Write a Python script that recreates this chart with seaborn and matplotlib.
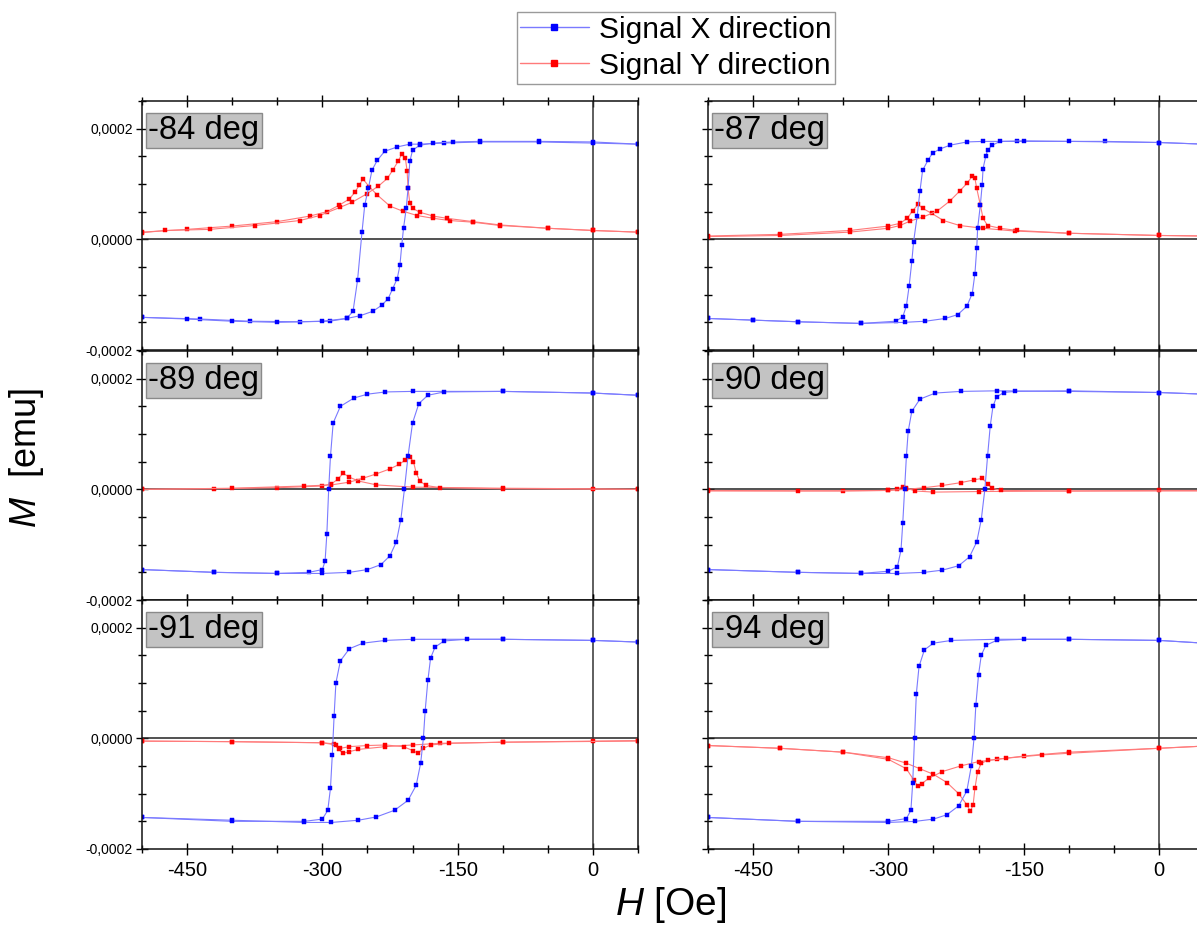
import numpy as np
import pandas as pd
import seaborn as sns
import matplotlib.pyplot as plt
from matplotlib.lines import Line2D
from matplotlib.ticker import MultipleLocator, FuncFormatter

# Hysteresis loops, H in Oe, M in units of 1e-4 emu
# x = signal X direction (blue), y = signal Y direction (red)
# "down" / "a" = field sweep from + to -, "up" / "b" = sweep from - to +

x84_down = [(50, 1.72), (0, 1.74), (-60, 1.76), (-125, 1.76), (-165, 1.74), (-192, 1.72), (-203, 1.72),
            (-217, 1.67), (-231, 1.59), (-239, 1.43), (-245, 1.25), (-249, 0.92), (-253, 0.62), (-256, 0.14),
            (-261, -0.74), (-266, -1.30), (-273, -1.43), (-292, -1.48), (-325, -1.49), (-380, -1.48),
            (-436, -1.44), (-500, -1.41)]
x84_up = [(-500, -1.41), (-450, -1.44), (-400, -1.48), (-350, -1.50), (-300, -1.48), (-273, -1.43),
          (-258, -1.38), (-244, -1.30), (-234, -1.19), (-227, -1.07), (-222, -0.89), (-217, -0.71),
          (-214, -0.47), (-212, -0.11), (-210, 0.20), (-207, 0.56), (-205, 0.92), (-203, 1.41), (-200, 1.61),
          (-192, 1.70), (-177, 1.74), (-155, 1.76), (-125, 1.77), (-60, 1.77), (0, 1.76), (50, 1.72)]
y84_a = [(50, 0.13), (0, 0.16), (-50, 0.20), (-103, 0.25), (-133, 0.31), (-159, 0.34), (-177, 0.38),
         (-195, 0.43), (-211, 0.51), (-225, 0.60), (-239, 0.80), (-248, 0.95), (-255, 1.09), (-259, 0.98),
         (-264, 0.85), (-270, 0.73), (-281, 0.62), (-295, 0.50), (-314, 0.42), (-350, 0.32), (-400, 0.24),
         (-450, 0.18), (-500, 0.13)]
y84_b = [(-500, 0.12), (-474, 0.16), (-425, 0.18), (-375, 0.25), (-325, 0.34), (-303, 0.43), (-280, 0.58),
         (-267, 0.67), (-251, 0.82), (-238, 0.96), (-228, 1.10), (-222, 1.25), (-216, 1.41), (-212, 1.54),
         (-208, 1.47), (-206, 1.23), (-205, 0.92), (-203, 0.65), (-200, 0.56), (-192, 0.49), (-177, 0.42),
         (-162, 0.38), (-133, 0.32), (-103, 0.26), (-50, 0.20), (0, 0.16), (50, 0.13)]

x87_down = [(50, 1.72), (0, 1.75), (-60, 1.77), (-157, 1.77), (-195, 1.77), (-213, 1.76), (-232, 1.70),
            (-243, 1.63), (-251, 1.56), (-256, 1.43), (-262, 1.25), (-265, 0.87), (-268, 0.43), (-272, -0.04),
            (-274, -0.40), (-277, -0.85), (-280, -1.20), (-284, -1.40), (-292, -1.48), (-330, -1.52),
            (-400, -1.49), (-450, -1.46), (-500, -1.43)]
x87_up = [(-500, -1.43), (-450, -1.46), (-400, -1.49), (-330, -1.52), (-282, -1.50), (-259, -1.48),
          (-237, -1.43), (-223, -1.36), (-213, -1.21), (-207, -0.98), (-204, -0.62), (-202, -0.16),
          (-201, 0.20), (-198, 0.62), (-196, 0.98), (-195, 1.28), (-192, 1.50), (-190, 1.61), (-185, 1.70),
          (-176, 1.77), (-150, 1.78), (-100, 1.77), (0, 1.75), (50, 1.72)]
y87_a = [(50, 0.06), (0, 0.07), (-100, 0.11), (-160, 0.15), (-195, 0.20), (-221, 0.25), (-239, 0.34),
         (-252, 0.47), (-262, 0.56), (-267, 0.63), (-273, 0.52), (-279, 0.38), (-287, 0.29), (-300, 0.24),
         (-343, 0.16), (-420, 0.09), (-500, 0.06)]
y87_b = [(-500, 0.05), (-420, 0.07), (-343, 0.13), (-300, 0.20), (-287, 0.25), (-276, 0.33), (-262, 0.40),
         (-246, 0.51), (-232, 0.69), (-221, 0.87), (-213, 1.01), (-207, 1.14), (-204, 1.10), (-202, 0.92),
         (-198, 0.62), (-195, 0.38), (-190, 0.25), (-176, 0.20), (-157, 0.16), (-100, 0.11), (0, 0.07),
         (50, 0.06)]

x89_down = [(50, 1.70), (0, 1.74), (-100, 1.77), (-200, 1.77), (-230, 1.76), (-250, 1.72), (-265, 1.65),
            (-280, 1.50), (-288, 1.20), (-291, 0.60), (-293, 0.0), (-295, -0.80), (-297, -1.30),
            (-300, -1.45), (-315, -1.50), (-350, -1.52), (-420, -1.50), (-500, -1.45)]
x89_up = [(-500, -1.45), (-420, -1.50), (-350, -1.52), (-300, -1.52), (-270, -1.50), (-250, -1.45),
          (-235, -1.36), (-225, -1.20), (-218, -0.95), (-213, -0.55), (-209, 0.0), (-205, 0.60),
          (-200, 1.20), (-193, 1.55), (-183, 1.70), (-165, 1.76), (-100, 1.77), (0, 1.74), (50, 1.70)]
y89_a = [(50, 0.0), (0, 0.01), (-100, 0.02), (-200, 0.04), (-240, 0.08), (-260, 0.15), (-270, 0.22),
         (-277, 0.29), (-283, 0.18), (-290, 0.10), (-300, 0.06), (-350, 0.03), (-420, 0.01), (-500, 0.0)]
y89_b = [(-500, 0.0), (-400, 0.02), (-320, 0.06), (-290, 0.08), (-270, 0.13), (-255, 0.20), (-240, 0.28),
         (-225, 0.37), (-215, 0.45), (-208, 0.53), (-203, 0.58), (-199, 0.50), (-196, 0.30), (-192, 0.15),
         (-185, 0.07), (-170, 0.03), (-100, 0.01), (50, 0.0)]

x90_down = [(50, 1.72), (0, 1.75), (-100, 1.77), (-180, 1.78), (-220, 1.77), (-248, 1.74), (-265, 1.63),
            (-274, 1.41), (-278, 1.05), (-280, 0.60), (-282, 0.0), (-284, -0.60), (-286, -1.10),
            (-290, -1.40), (-300, -1.48), (-330, -1.52), (-400, -1.50), (-500, -1.45)]
x90_up = [(-500, -1.45), (-400, -1.50), (-330, -1.52), (-290, -1.52), (-260, -1.50), (-240, -1.46),
          (-222, -1.38), (-210, -1.22), (-202, -0.95), (-197, -0.55), (-193, 0.0), (-190, 0.60),
          (-187, 1.15), (-184, 1.50), (-180, 1.67), (-172, 1.75), (-160, 1.77), (-100, 1.78), (0, 1.75),
          (50, 1.72)]
y90_a = [(50, -0.02), (0, -0.02), (-100, -0.03), (-200, -0.04), (-250, -0.05), (-270, -0.03), (-280, 0.02),
         (-284, 0.05), (-290, 0.0), (-300, -0.02), (-350, -0.03), (-500, -0.02)]
y90_b = [(-500, -0.03), (-400, -0.03), (-300, -0.02), (-280, 0.0), (-260, 0.03), (-240, 0.07),
         (-220, 0.12), (-205, 0.17), (-196, 0.20), (-190, 0.10), (-185, 0.02), (-175, -0.02),
         (-100, -0.03), (50, -0.03)]

x91_down = [(50, 1.74), (0, 1.77), (-100, 1.79), (-200, 1.79), (-230, 1.77), (-255, 1.72), (-270, 1.62),
            (-280, 1.40), (-285, 1.00), (-287, 0.40), (-289, -0.30), (-291, -0.90), (-294, -1.30),
            (-300, -1.46), (-320, -1.50), (-400, -1.50), (-500, -1.43)]
x91_up = [(-500, -1.43), (-400, -1.48), (-320, -1.52), (-290, -1.52), (-260, -1.48), (-240, -1.42),
          (-220, -1.30), (-205, -1.12), (-196, -0.85), (-191, -0.45), (-188, 0.0), (-186, 0.50),
          (-183, 1.05), (-180, 1.45), (-175, 1.65), (-165, 1.76), (-140, 1.79), (-100, 1.79), (0, 1.77),
          (50, 1.74)]
y91_a = [(50, -0.04), (0, -0.05), (-100, -0.07), (-170, -0.09), (-200, -0.12), (-230, -0.15), (-260, -0.20),
         (-270, -0.24), (-277, -0.27), (-282, -0.20), (-287, -0.10), (-300, -0.08), (-400, -0.06),
         (-500, -0.05)]
y91_b = [(-500, -0.05), (-400, -0.06), (-300, -0.08), (-285, -0.12), (-280, -0.18), (-270, -0.15),
         (-250, -0.13), (-230, -0.12), (-210, -0.15), (-200, -0.22), (-194, -0.27), (-188, -0.18),
         (-180, -0.12), (-160, -0.09), (-100, -0.07), (50, -0.05)]

x94_down = [(50, 1.72), (0, 1.77), (-100, 1.79), (-180, 1.79), (-230, 1.77), (-250, 1.72), (-260, 1.60),
            (-266, 1.30), (-269, 0.80), (-271, 0.0), (-273, -0.80), (-275, -1.30), (-280, -1.45),
            (-300, -1.50), (-400, -1.50), (-500, -1.43)]
x94_up = [(-500, -1.43), (-400, -1.50), (-300, -1.52), (-270, -1.50), (-250, -1.46), (-235, -1.38),
          (-222, -1.22), (-213, -0.95), (-208, -0.50), (-205, 0.0), (-203, 0.60), (-200, 1.15),
          (-197, 1.50), (-192, 1.68), (-180, 1.77), (-150, 1.79), (-100, 1.79), (0, 1.77), (50, 1.72)]
y94_a = [(50, -0.14), (0, -0.18), (-100, -0.25), (-150, -0.32), (-180, -0.38), (-200, -0.42), (-220, -0.50),
         (-240, -0.60), (-255, -0.72), (-263, -0.82), (-267, -0.87), (-272, -0.75), (-280, -0.55),
         (-300, -0.38), (-350, -0.25), (-420, -0.18), (-500, -0.13)]
y94_b = [(-500, -0.13), (-420, -0.18), (-350, -0.25), (-300, -0.35), (-280, -0.45), (-265, -0.55),
         (-250, -0.65), (-235, -0.80), (-222, -1.00), (-213, -1.20), (-209, -1.32), (-206, -1.20),
         (-204, -0.90), (-201, -0.60), (-197, -0.45), (-190, -0.40), (-170, -0.36), (-130, -0.30),
         (-100, -0.27), (0, -0.18), (50, -0.14)]

angles = ["-84 deg", "-87 deg", "-89 deg", "-90 deg", "-91 deg", "-94 deg"]
x_curves = [(x84_down, x84_up), (x87_down, x87_up), (x89_down, x89_up),
            (x90_down, x90_up), (x91_down, x91_up), (x94_down, x94_up)]
y_curves = [(y84_a, y84_b), (y87_a, y87_b), (y89_a, y89_b),
            (y90_a, y90_b), (y91_a, y91_b), (y94_a, y94_b)]

sns.set_style("ticks")
plt.rcParams["font.family"] = ["Liberation Sans", "DejaVu Sans"]
plt.rcParams["mathtext.fontset"] = "custom"
plt.rcParams["mathtext.it"] = "Liberation Sans:italic"
plt.rcParams["mathtext.rm"] = "Liberation Sans"
plt.rcParams["axes.unicode_minus"] = False
plt.rcParams["text.color"] = "black"
plt.rcParams["xtick.color"] = "black"
plt.rcParams["ytick.color"] = "black"
plt.rcParams["xtick.labelcolor"] = "black"
plt.rcParams["ytick.labelcolor"] = "black"

W, H = 1197, 927
fig = plt.figure(figsize=(W / 100, H / 100), dpi=100)

col_left = [142, 708]
ax_w = 496
row_top = [101, 351, 600]
ax_h = 249

blue_line, blue_mark = "#7a7aff", "#0000ff"
red_line, red_mark = "#ff7a7a", "#ff0000"


def draw_branch(ax, pts, lc, mc):
    df = pd.DataFrame(pts, columns=["H", "M"])
    df["M"] = df["M"] * 1e-4
    sns.lineplot(data=df, x="H", y="M", ax=ax, sort=False, estimator=None,
                 color=lc, lw=0.8, marker="s", markersize=2.6,
                 markerfacecolor=mc, markeredgecolor=mc, markeredgewidth=0.3)


fmt = FuncFormatter(lambda v, p: f"{v:.4f}".replace(".", ",").replace("-0,0000", "0,0000"))

for i, label in enumerate(angles):
    r, c = divmod(i, 2)
    left = col_left[c] / W
    bottom = 1 - (row_top[r] + ax_h) / H
    ax = fig.add_axes([left, bottom, ax_w / W, ax_h / H])

    ax.axhline(0, color="#222222", lw=1.1, zorder=1)
    ax.axvline(0, color="#333333", lw=1.1, zorder=1)

    for br in y_curves[i]:
        draw_branch(ax, br, red_line, red_mark)
    for br in x_curves[i]:
        draw_branch(ax, br, blue_line, blue_mark)

    ax.set_xlim(-500, 50)
    ax.set_ylim(-0.0002, 0.00025)
    ax.set_xlabel("")
    ax.set_ylabel("")
    ax.xaxis.set_minor_locator(MultipleLocator(50))
    ax.set_xticks([-450, -300, -150, 0])
    ax.yaxis.set_major_locator(MultipleLocator(0.0002))
    ax.yaxis.set_minor_locator(MultipleLocator(0.00005))
    ax.yaxis.set_major_formatter(fmt)
    ax.tick_params(which="both", direction="inout", top=True, colors="black")
    ax.tick_params(which="major", length=9, width=1)
    ax.tick_params(which="minor", length=6, width=1)
    ax.tick_params(axis="x", labelsize=14.5, pad=4)
    ax.tick_params(axis="y", labelsize=10, pad=2)
    if r < 2:
        ax.tick_params(axis="x", labelbottom=False)
    if c == 1:
        ax.tick_params(axis="y", labelleft=False)
    for s in ax.spines.values():
        s.set_linewidth(1.1)
        s.set_color("#111111")

    ax.text(0.013, 0.942, label, transform=ax.transAxes, fontsize=23.5, va="top", ha="left",
            color="black",
            bbox=dict(boxstyle="square,pad=0.06", facecolor="#c3c3c3", edgecolor="#8a8a8a", lw=1))

handles = [Line2D([0], [0], color=blue_line, lw=1, marker="s", markersize=5,
                  markerfacecolor=blue_mark, markeredgecolor=blue_mark),
           Line2D([0], [0], color=red_line, lw=1, marker="s", markersize=5,
                  markerfacecolor=red_mark, markeredgecolor=red_mark)]
leg = fig.legend(handles, ["Signal X direction", "Signal Y direction"], loc="upper center",
                 bbox_to_anchor=(676 / W, 1 - 12 / H), fontsize=21.5, frameon=True, fancybox=False,
                 framealpha=1, edgecolor="#9a9a9a", handlelength=2.3, handletextpad=0.35,
                 borderpad=0.12, labelspacing=0.28, borderaxespad=0)
leg.get_frame().set_linewidth(1)
for t in leg.get_texts():
    t.set_color("black")

fig.text(671 / W, 1 - 905 / H, r"$\it{H}$ [Oe]", fontsize=28, ha="center", va="center")
fig.text(26 / W, 1 - 458 / H, r"$\it{M}$  [emu]", fontsize=26, ha="center", va="center", rotation=90)

fig.savefig("out.png", dpi=100)
